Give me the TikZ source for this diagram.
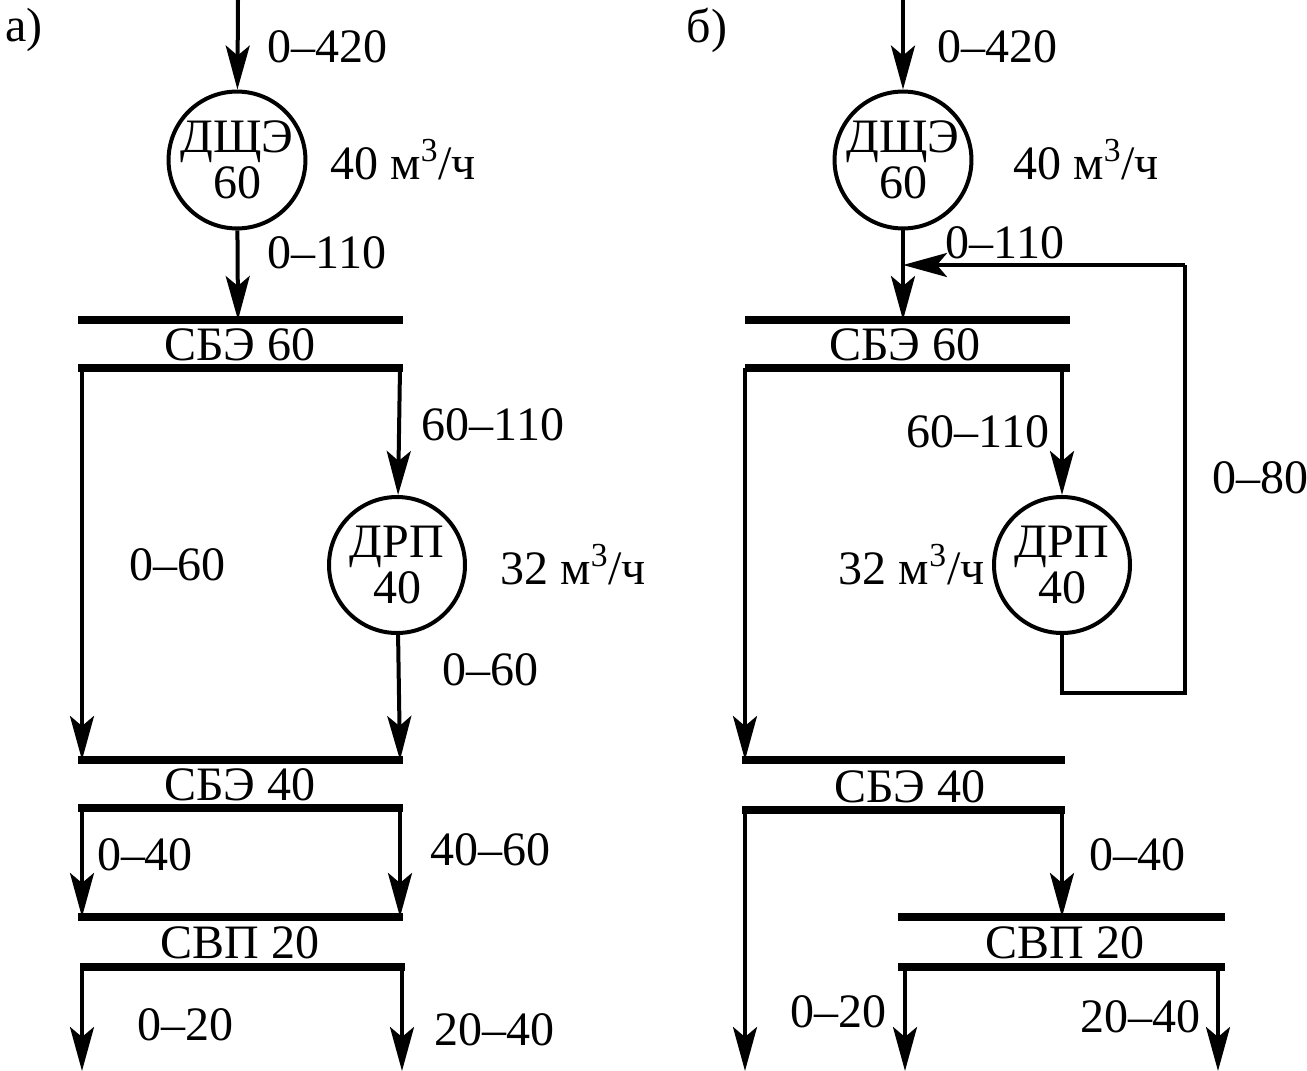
\documentclass[tikz,border=0pt]{standalone}
\usepackage{fontspec}
\setmainfont{LiberationSerif-Regular.ttf}
\usepackage{tikz}
\usetikzlibrary{arrows.meta, positioning}

\begin{document}
\begin{tikzpicture}[
        x=0.5pt, y=-0.5pt,
        font=\fontsize{24}{24}\selectfont,
        unit/.style={circle, draw, line width=2pt, minimum size=68pt, inner sep=0pt, align=center, font=\fontsize{24}{23}\selectfont},
        flow/.style={draw, line width=2pt, -{Stealth[length=22pt, width=12pt, inset=5pt]}},
        pipe/.style={draw, line width=2pt},
        bar/.style={draw, line width=4pt},
        lbl/.style={inner sep=0pt}
    ]
        \useasboundingbox (0,0) rectangle (1307,1071);

        % a)
        \node [lbl] (capa) at (24,30) {а)};
        \coordinate (ina) at (238,0);
        \node [unit] (dsha) at (237,160) {ДЩЭ\\60};
        \node [lbl] at (327,47) {0–420};
        \node [lbl, anchor=west] at (330,160) {40 м\textsuperscript{3}/ч};
        \node [lbl] at (327,253) {0–110};
        \coordinate (sb1a) at (238,320);
        \draw [bar] (78,320) -- (403,320);
        \node [lbl] at (240,345) {СБЭ 60};
        \draw [bar] (78,368) -- (403,368);
        \coordinate (sb1al) at (82,368);
        \coordinate (sb1ar) at (400,368);
        \node [unit] (drpa) at (397,565) {ДРП\\40};
        \node [lbl] at (493,425) {60–110};
        \node [lbl] at (177,565) {0–60};
        \node [lbl, anchor=west] at (500,565) {32 м\textsuperscript{3}/ч};
        \node [lbl] at (490,670) {0–60};
        \coordinate (sb2al) at (82,760);
        \coordinate (sb2ar) at (400,760);
        \draw [bar] (78,760) -- (403,760);
        \node [lbl] at (240,785) {СБЭ 40};
        \draw [bar] (78,808) -- (403,808);
        \coordinate (sb2bl) at (82,808);
        \coordinate (sb2br) at (400,808);
        \node [lbl] at (145,855) {0–40};
        \node [lbl] at (490,850) {40–60};
        \coordinate (svpal) at (82,917);
        \coordinate (svpar) at (400,917);
        \draw [bar] (78,917) -- (403,917);
        \node [lbl] at (240,943) {СВП 20};
        \draw [bar] (80,967) -- (405,967);
        \coordinate (svpbl) at (82,967);
        \coordinate (svpbr) at (402,967);
        \coordinate (outal) at (82,1071);
        \coordinate (outar) at (402,1071);
        \node [lbl] at (185,1025) {0–20};
        \node [lbl] at (494,1030) {20–40};

        \path [flow] (ina) -- (dsha);
        \path [flow] (dsha) -- (sb1a);
        \path [flow] (sb1ar) -- (drpa);
        \path [flow] (sb1al) -- (sb2al);
        \path [flow] (drpa) -- (sb2ar);
        \path [flow] (sb2bl) -- (svpal);
        \path [flow] (sb2br) -- (svpar);
        \path [flow] (svpbl) -- (outal);
        \path [flow] (svpbr) -- (outar);

        % b)
        \node [lbl] (capb) at (707,30) {б)};
        \coordinate (inb) at (903,0);
        \node [unit] (dshb) at (903,160) {ДЩЭ\\60};
        \node [lbl] at (997,47) {0–420};
        \node [lbl, anchor=west] at (1013,160) {40 м\textsuperscript{3}/ч};
        \coordinate (mix) at (903,265);
        \node [lbl] at (1005,243) {0–110};
        \coordinate (sb1b) at (903,320);
        \draw [bar] (745,320) -- (1070,320);
        \node [lbl] at (905,345) {СБЭ 60};
        \draw [bar] (745,368) -- (1070,368);
        \coordinate (sb1bl) at (745,368);
        \coordinate (sb1br) at (1062,368);
        \node [unit] (drpb) at (1062,565) {ДРП\\40};
        \node [lbl] at (978,432) {60–110};
        \node [lbl, anchor=east] at (985,565) {32 м\textsuperscript{3}/ч};
        \coordinate (retb) at (1062,693);
        \coordinate (retc) at (1185,265);
        \node [lbl] at (1260,478) {0–80};
        \coordinate (sb2bl2) at (745,760);
        \draw [bar] (742,760) -- (1065,760);
        \node [lbl] at (910,787) {СБЭ 40};
        \draw [bar] (742,810) -- (1065,810);
        \coordinate (sb2cl) at (745,810);
        \coordinate (sb2cr) at (1062,810);
        \coordinate (outbl) at (745,1071);
        \node [lbl] at (1137,855) {0–40};
        \coordinate (svpb) at (1062,917);
        \draw [bar] (898,917) -- (1225,917);
        \node [lbl] at (1065,943) {СВП 20};
        \draw [bar] (898,967) -- (1225,967);
        \coordinate (svpcl) at (905,967);
        \coordinate (svpcr) at (1218,967);
        \coordinate (outbm) at (905,1071);
        \coordinate (outbr) at (1218,1071);
        \node [lbl] at (838,1012) {0–20};
        \node [lbl] at (1140,1017) {20–40};

        \path [flow] (inb) -- (dshb);
        \path [flow] (dshb) -- (sb1b);
        \path [flow] (sb1br) -- (drpb);
        \path [flow] (sb1bl) -- (sb2bl2);
        \path [pipe] (drpb) -- (retb) -| (retc);
        \path [flow] (retc) -- (mix);
        \path [flow] (sb2cl) -- (outbl);
        \path [flow] (sb2cr) -- (svpb);
        \path [flow] (svpcl) -- (outbm);
        \path [flow] (svpcr) -- (outbr);
    \end{tikzpicture}
\end{document}
